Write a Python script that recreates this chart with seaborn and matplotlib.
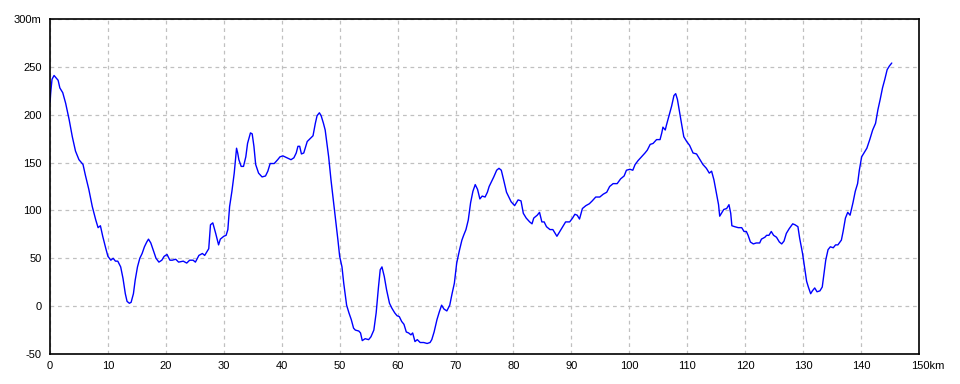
import matplotlib
matplotlib.use("Agg")
import matplotlib.pyplot as plt
import matplotlib.transforms as mtransforms
import seaborn as sns
import pandas as pd

dist = [0.0, 0.15, 0.35, 0.7, 1.4, 1.7, 2.2, 2.7, 3.3, 3.85,
        4.4, 5.0, 5.7, 6.1, 6.7, 7.3, 7.9, 8.3, 8.7, 9.1,
        9.6, 10.0, 10.5, 10.9, 11.3, 11.7, 12.2, 12.6, 13.0, 13.3,
        13.7, 14.0, 14.4, 14.7, 15.1, 15.5, 15.9, 16.3, 16.7, 17.0,
        17.4, 17.9, 18.3, 18.8, 19.3, 19.7, 20.2, 20.7, 21.1, 21.7,
        22.2, 23.0, 23.6, 24.1, 24.7, 25.1, 25.7, 26.3, 26.7, 27.1,
        27.4, 27.7, 28.1, 28.6, 29.1, 29.4, 30.0, 30.4, 30.7, 31.0,
        31.4, 31.8, 32.2, 32.4, 32.6, 33.0, 33.4, 33.8, 34.1, 34.6,
        34.9, 35.2, 35.5, 36.0, 36.6, 37.2, 37.6, 38.0, 38.7, 39.3,
        39.7, 40.2, 40.9, 41.6, 42.1, 42.5, 42.8, 43.1, 43.4, 43.8,
        44.4, 44.9, 45.4, 45.8, 46.1, 46.5, 46.8, 47.2, 47.5, 47.8,
        48.1, 48.5, 48.9, 49.3, 49.7, 50.0, 50.4, 50.7, 51.2, 51.6,
        52.0, 52.4, 52.7, 53.3, 53.6, 53.9, 54.4, 55.0, 55.4, 55.9,
        56.3, 56.7, 57.0, 57.3, 57.7, 58.1, 58.6, 59.0, 59.5, 59.9,
        60.3, 60.7, 61.1, 61.5, 61.9, 62.3, 62.6, 63.0, 63.4, 63.9,
        64.5, 65.1, 65.6, 65.9, 66.3, 66.8, 67.2, 67.6, 68.0, 68.5,
        69.0, 69.4, 69.8, 70.2, 70.7, 71.1, 71.4, 71.8, 72.2, 72.6,
        73.0, 73.4, 73.8, 74.2, 74.6, 75.1, 75.5, 75.8, 76.2, 76.6,
        77.1, 77.5, 77.9, 78.3, 78.8, 79.2, 79.6, 80.2, 80.8, 81.3,
        81.7, 82.2, 82.8, 83.2, 83.5, 84.1, 84.5, 84.9, 85.3, 85.7,
        86.3, 86.8, 87.1, 87.5, 88.0, 88.5, 89.0, 89.7, 90.2, 90.6,
        91.0, 91.4, 91.9, 92.5, 93.1, 93.6, 94.2, 94.9, 95.5, 96.1,
        96.6, 97.2, 97.9, 98.5, 99.1, 99.5, 100.1, 100.6, 101.0, 101.5,
        102.1, 102.7, 103.1, 103.6, 104.1, 104.7, 105.3, 105.6, 105.8, 106.2,
        106.4, 106.9, 107.3, 107.7, 108.0, 108.3, 108.6, 109.0, 109.4, 109.9,
        110.4, 111.0, 111.6, 112.2, 112.7, 113.3, 113.8, 114.2, 114.6, 115.0,
        115.4, 115.6, 115.9, 116.3, 116.8, 117.2, 117.5, 117.7, 118.2, 118.8,
        119.4, 119.8, 120.2, 120.5, 120.9, 121.4, 121.9, 122.5, 122.8, 123.4,
        123.7, 124.1, 124.5, 124.9, 125.4, 125.9, 126.3, 126.7, 127.1, 127.6,
        128.2, 128.6, 129.1, 129.4, 129.9, 130.3, 130.6, 130.9, 131.3, 131.6,
        132.0, 132.4, 132.9, 133.3, 133.6, 133.9, 134.3, 134.7, 135.2, 135.6,
        136.0, 136.6, 136.9, 137.3, 137.7, 138.1, 138.6, 139.0, 139.4, 139.7,
        140.1, 140.6, 141.0, 141.5, 142.0, 142.5, 142.9, 143.3, 143.7, 144.1,
        144.5, 144.9, 145.3]

elev = [213, 225, 237, 241, 236, 228, 223, 212, 195, 177,
        162, 153, 148, 137, 122, 104, 90, 82, 84, 73,
        61, 52, 48, 50, 47, 47, 41, 29, 13, 5,
        3, 4, 13, 27, 41, 50, 55, 62, 67, 70,
        66, 57, 50, 46, 48, 52, 54, 48, 48, 49,
        46, 47, 45, 48, 48, 46, 53, 55, 53, 57,
        60, 85, 87, 76, 64, 70, 73, 74, 80, 104,
        120, 139, 165, 160, 153, 146, 146, 156, 170, 181,
        180, 167, 148, 139, 135, 136, 141, 149, 149, 153,
        156, 157, 155, 153, 155, 160, 167, 167, 159, 160,
        172, 175, 178, 191, 199, 202, 199, 191, 184, 170,
        156, 132, 111, 90, 69, 52, 41, 24, 1, -7,
        -14, -23, -25, -26, -28, -36, -34, -35, -32, -25,
        -7, 20, 38, 41, 31, 17, 3, -2, -7, -10,
        -11, -16, -19, -27, -28, -30, -28, -37, -35, -38,
        -38, -39, -38, -35, -27, -14, -6, 1, -3, -5,
        1, 13, 24, 45, 59, 69, 74, 80, 90, 108,
        120, 127, 122, 112, 115, 114, 119, 125, 130, 135,
        142, 144, 142, 132, 119, 114, 109, 105, 111, 110,
        97, 92, 88, 86, 92, 95, 98, 88, 88, 83,
        80, 80, 77, 73, 78, 83, 88, 88, 92, 96,
        95, 91, 102, 105, 107, 110, 114, 114, 117, 119,
        125, 128, 128, 133, 136, 142, 143, 142, 148, 152,
        156, 160, 163, 169, 170, 174, 174, 181, 187, 184,
        189, 200, 209, 220, 222, 216, 205, 191, 177, 172,
        168, 160, 159, 153, 148, 144, 139, 141, 132, 119,
        106, 94, 97, 101, 102, 106, 97, 84, 83, 82,
        82, 78, 78, 74, 67, 65, 66, 66, 70, 72,
        74, 74, 78, 74, 72, 67, 65, 68, 76, 81,
        86, 85, 83, 71, 55, 38, 26, 20, 13, 16,
        19, 15, 16, 20, 34, 48, 59, 62, 61, 64,
        64, 69, 78, 92, 98, 95, 108, 120, 128, 142,
        156, 161, 165, 174, 184, 191, 205, 216, 228, 237,
        247, 251, 254]

x_ticks = [0, 10, 20, 30, 40, 50, 60, 70, 80, 90, 100, 110, 120, 130, 140, 150]
x_labels = ["0", "10", "20", "30", "40", "50", "60", "70", "80", "90",
            "100", "110", "120", "130", "140", "150km"]
y_ticks = [-50, 0, 50, 100, 150, 200, 250, 300]
y_labels = ["-50", "0", "50", "100", "150", "200", "250", "300m"]

df = pd.DataFrame({"dist": dist, "elev": elev})

sns.set_style("white")
plt.rcParams["font.family"] = ["Liberation Sans", "DejaVu Sans"]

fig = plt.figure(figsize=(9.6, 3.84), dpi=100)
ax = fig.add_axes([50 / 960, 30 / 384, 869 / 960, 335 / 384])

sns.lineplot(data=df, x="dist", y="elev", ax=ax, color="#0000ff",
             linewidth=1.0, sort=False, estimator=None)

ax.set_xlim(0, 150)
ax.set_ylim(-50, 300)
ax.set_xticks(x_ticks)
ax.set_xticklabels(x_labels)
ax.set_yticks(y_ticks)
ax.set_yticklabels(y_labels)
ax.set_xlabel("")
ax.set_ylabel("")
ax.grid(True, color="#c0c0c0", linestyle=(0, (3, 3)), linewidth=0.9)
ax.tick_params(axis="both", length=0, labelsize=8, colors="black")
ax.tick_params(axis="x", pad=5)
ax.tick_params(axis="y", pad=6)
for s in ax.spines.values():
    s.set_visible(True)
    s.set_color("black")
    s.set_linewidth(1.2)

# shift the last x label so "150" sits on the tick and "km" follows
last = ax.get_xticklabels()[-1]
last.set_horizontalalignment("left")
last.set_transform(last.get_transform() + mtransforms.ScaledTranslation(-8 / 100, 0, fig.dpi_scale_trans))

fig.savefig("out.png", dpi=100, facecolor="white")
